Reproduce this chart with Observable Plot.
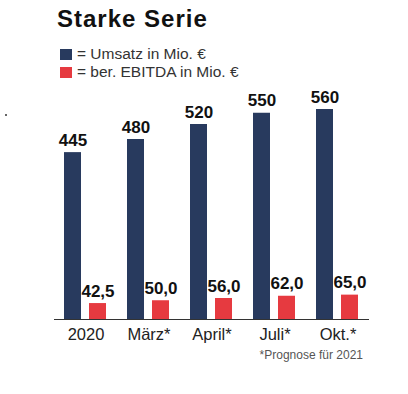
<!DOCTYPE html>
<html>
<head>
<meta charset="utf-8">
<script src="https://cdn.jsdelivr.net/npm/d3@7"></script>
<script src="https://cdn.jsdelivr.net/npm/@observablehq/plot@0.6"></script>
<style>
  html, body { margin: 0; padding: 0; background: #fff; }
  body { width: 408px; height: 394px; position: relative; overflow: hidden; font-family: "Liberation Sans", Arial, sans-serif; }
  #title { position: absolute; left: 57px; top: 4px; font-size: 24px; font-weight: bold; letter-spacing: 1px; color: #111; line-height: 30px; }
  #legend { position: absolute; left: 60px; top: 45px; font-size: 15.5px; color: #333; line-height: 18px; z-index: 1; }
  .row { display: flex; align-items: center; height: 18px; }
  .sw { width: 12px; height: 11px; margin-right: 5px; display: inline-block; }
  #chart { position: absolute; left: 0; top: 80px; }
  #note { position: absolute; right: 45px; top: 348px; font-size: 12px; color: #555; }
  #dot { position: absolute; left: 5px; top: 114px; width: 2px; height: 2px; background: #666; }
</style>
</head>
<body>
<div id="chart"></div>
<div id="title">Starke Serie</div>
<div id="legend"></div>
<div id="dot"></div>
<div id="note">*Prognose für 2021</div>
<script>
const categories = ["2020", "März*", "April*", "Juli*", "Okt.*"];
const seriesNames = ["Umsatz", "EBITDA"];
const legendLabels = ["= Umsatz in Mio. €", "= ber. EBITDA in Mio. €"];
const seriesColors = ["#283a5e", "#e63a40"];
const umsatz = [445, 480, 520, 550, 560];
const ebitda = [42.5, 50.0, 56.0, 62.0, 65.0];

const data = [];
categories.forEach((c, i) => {
  data.push({cat: c, series: "Umsatz", value: umsatz[i]});
  data.push({cat: c, series: "EBITDA", value: ebitda[i]});
});

const fmt = d => d.series === "Umsatz"
  ? d.value.toLocaleString("de-DE", {maximumFractionDigits: 0})
  : d.value.toLocaleString("de-DE", {minimumFractionDigits: 1, maximumFractionDigits: 1});

const legend = document.getElementById("legend");
seriesNames.forEach((s, i) => {
  const row = document.createElement("div");
  row.className = "row";
  const sw = document.createElement("span");
  sw.className = "sw";
  sw.style.background = seriesColors[i];
  row.appendChild(sw);
  row.appendChild(document.createTextNode(legendLabels[i]));
  legend.appendChild(row);
});

const chart = Plot.plot({
  width: 408,
  height: 300,
  marginTop: 14,
  marginBottom: 61,
  marginLeft: 53,
  marginRight: 39,
  style: {fontFamily: "Liberation Sans, Arial, sans-serif", background: "transparent"},
  fx: {domain: categories, paddingInner: 0, paddingOuter: 0, label: null, axis: null},
  x: {domain: seriesNames, paddingInner: 0.31, paddingOuter: 0.37, axis: null},
  y: {domain: [0, 600], axis: null},
  color: {domain: seriesNames, range: seriesColors},
  marks: [
    Plot.barY(data, {fx: "cat", x: "series", y: "value", fill: "series"}),
    Plot.text(data, {fx: "cat", x: "series", y: "value", text: fmt, dy: -7, lineAnchor: "bottom", fontWeight: "bold", fontSize: 17, fill: "#111"}),
    Plot.ruleY([0], {stroke: "#333", strokeWidth: 1.2}),
    Plot.axisFx({anchor: "bottom", tickSize: 0, tickPadding: 9, fontSize: 16.5, color: "#222", label: null})
  ]
});
document.getElementById("chart").appendChild(chart);
</script>
</body>
</html>
